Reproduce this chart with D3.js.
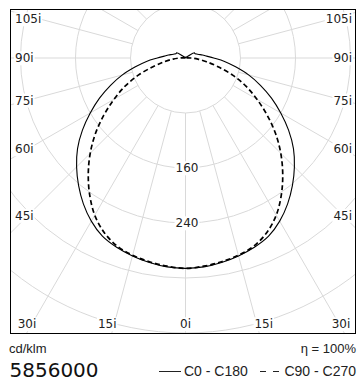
<!DOCTYPE html>
<html>
<head>
<meta charset="utf-8">
<script src="https://cdn.jsdelivr.net/npm/d3@7"></script>
<style>
  html, body { margin: 0; padding: 0; background: #fff; }
  svg { display: block; }
</style>
</head>
<body>
<svg id="chart" width="361" height="380"></svg>
<script>
// ---- data ----
const gammaAngles = [0,5,10,15,20,25,30,35,40,45,50,55,60,65,70,75,80,85,90,95,100,105,110,115,120,125,130,135,140,145,150,155,160,165,170,175,180];
const c0   = [306,305,302,298,293,286,274,259,242,224,205,183,160,138,116,95,74,57,41,31,25,20,17,15,15,5,3,2,1,1,1,1,1,0,0,0,0];
const c180 = [306,305,302,298,293,286,274,259,242,224,205,183,160,138,116,95,74,57,41,31,25,20,17,15,15,5,3,2,1,1,1,1,1,0,0,0,0];
const c90  = [306,304,301,297,291,280,264,243,220,196,171,145,120,97,73,49,31,18,8,3,1,0,0,0,0,0,0,0,0,0,0,0,0,0,0,0,0];
const c270 = [306,304,301,297,291,280,264,243,220,196,171,145,120,97,73,49,31,18,8,3,1,0,0,0,0,0,0,0,0,0,0,0,0,0,0,0,0];
const ringValues = [80,160,240,320,400];
const ringLabelValues = [160,240];
const sideAngleTicks = [105,90,75,60,45];
const bottomAngleTicks = [-30,-15,0,15,30];
const gridAngles = [-165,-150,-135,-120,-105,-90,-75,-60,-45,-30,-15,0,15,30,45,60,75,90,105,120,135,150,165];
const unitLabel = "cd/klm";
const lampFlux = "5856000";
const efficiency = "η = 100%";
const legendNames = ["C0 - C180", "C90 - C270"];

// ---- layout ----
const svg = d3.select("#chart");
const box = {x0: 10.5, y0: 9.5, x1: 355.5, y1: 333.5};
const cx = 185.5, cy = 58;
const r = d3.scaleLinear().domain([0, 80]).range([0, 55]);
const gridColor = "#d9d9d9";
const tickFont = "'DejaVu Sans', sans-serif";
const textFont = "'Liberation Sans', Arial, sans-serif";

svg.append("defs").append("clipPath").attr("id", "boxclip")
  .append("rect").attr("x", box.x0).attr("y", box.y0)
  .attr("width", box.x1 - box.x0).attr("height", box.y1 - box.y0);

const grid = svg.append("g").attr("clip-path", "url(#boxclip)");
grid.selectAll("circle.ring").data(ringValues).join("circle")
  .attr("class", "ring")
  .attr("cx", cx).attr("cy", cy).attr("r", d => r(d))
  .attr("fill", "none").attr("stroke", gridColor).attr("stroke-width", 1);
const rad = a => a * Math.PI / 180;
grid.selectAll("line.spoke").data(gridAngles).join("line")
  .attr("class", "spoke")
  .attr("x1", a => cx + r(80) * Math.sin(rad(a)))
  .attr("y1", a => cy + r(80) * Math.cos(rad(a)))
  .attr("x2", a => cx + r(1000) * Math.sin(rad(a)))
  .attr("y2", a => cy + r(1000) * Math.cos(rad(a)))
  .attr("stroke", gridColor).attr("stroke-width", 1);

const labels = svg.append("g");
function addLabel(x, y, txt, anchor) {
  const g = labels.append("g");
  const rect = g.append("rect").attr("fill", "#fff");
  const t = g.append("text")
    .attr("x", x).attr("y", y).attr("dy", "0.36em")
    .attr("text-anchor", anchor)
    .attr("font-family", tickFont).attr("font-size", 12)
    .attr("fill", "#222")
    .text(txt);
  const bb = t.node().getBBox();
  rect.attr("x", bb.x - 1).attr("y", bb.y).attr("width", bb.width + 2).attr("height", bb.height);
}
const sideInset = 157.5;
sideAngleTicks.forEach(a => {
  let y = cy + sideInset / Math.tan(rad(a));
  y = Math.max(19, y);
  addLabel(box.x0 + 4.5, y, a + "i", "start");
  addLabel(box.x1 - 3.5, y, a + "i", "end");
});
const bottomY = 324;
bottomAngleTicks.forEach(a => {
  let x = cx + (bottomY - cy) * Math.tan(rad(a));
  if (a < 0) x -= 7; else if (a > 0) x += 7;
  x = Math.max(27, Math.min(341, x));
  addLabel(x, bottomY, Math.abs(a) + "i", "middle");
});
ringLabelValues.forEach(v => addLabel(cx + 1.5, cy + r(v), String(v), "middle"));

// ---- curves ----
function planePoints(rightVals, leftVals) {
  const pts = [];
  for (let i = gammaAngles.length - 1; i >= 0; i--) pts.push([Math.PI + rad(gammaAngles[i]), r(leftVals[i])]);
  for (let i = 1; i < gammaAngles.length; i++) pts.push([Math.PI - rad(gammaAngles[i]), r(rightVals[i])]);
  return pts;
}
const radial = d3.lineRadial().angle(d => d[0]).radius(d => d[1]).curve(d3.curveCatmullRom.alpha(0.5));
const curves = svg.append("g").attr("transform", `translate(${cx},${cy})`);
curves.append("path").attr("d", radial(planePoints(c0, c180)))
  .attr("fill", "none").attr("stroke", "#000").attr("stroke-width", 1.1);
curves.append("path").attr("d", radial(planePoints(c90, c270)))
  .attr("fill", "none").attr("stroke", "#000").attr("stroke-width", 1.7)
  .attr("stroke-dasharray", "5,3");

svg.append("rect").attr("x", box.x0).attr("y", box.y0)
  .attr("width", box.x1 - box.x0).attr("height", box.y1 - box.y0)
  .attr("fill", "none").attr("stroke", "#000").attr("stroke-width", 1);

// ---- footer ----
svg.append("text").attr("x", 9).attr("y", 352.7)
  .attr("font-family", textFont).attr("font-size", 13).attr("fill", "#222").text(unitLabel);
svg.append("text").attr("x", 356).attr("y", 352.7).attr("text-anchor", "end")
  .attr("font-family", textFont).attr("font-size", 13).attr("fill", "#222").text(efficiency);
svg.append("text").attr("x", 9.5).attr("y", 376.5)
  .attr("font-family", tickFont).attr("font-size", 20).attr("fill", "#111").text(lampFlux);
svg.append("line").attr("x1", 159).attr("x2", 181).attr("y1", 371.5).attr("y2", 371.5)
  .attr("stroke", "#222").attr("stroke-width", 1);
svg.append("text").attr("x", 184).attr("y", 375.7)
  .attr("font-family", textFont).attr("font-size", 14).attr("fill", "#222").text(legendNames[0]);
svg.append("line").attr("x1", 260).attr("x2", 280).attr("y1", 371.5).attr("y2", 371.5)
  .attr("stroke", "#222").attr("stroke-width", 1).attr("stroke-dasharray", "6,7");
svg.append("text").attr("x", 356).attr("y", 375.7).attr("text-anchor", "end")
  .attr("font-family", textFont).attr("font-size", 14).attr("fill", "#222").text(legendNames[1]);
</script>
</body>
</html>
